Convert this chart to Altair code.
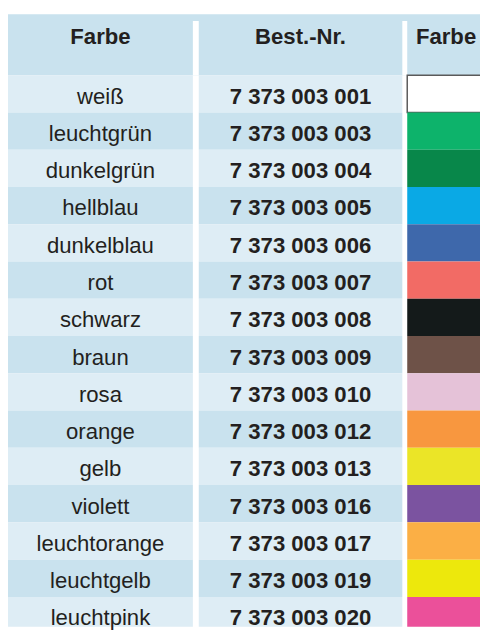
import altair as alt
import pandas as pd

# ---- table content ----
farben = ["weiß", "leuchtgrün", "dunkelgrün", "hellblau", "dunkelblau", "rot",
          "schwarz", "braun", "rosa", "orange", "gelb", "violett",
          "leuchtorange", "leuchtgelb", "leuchtpink"]
nummern = ["7 373 003 001", "7 373 003 003", "7 373 003 004", "7 373 003 005",
           "7 373 003 006", "7 373 003 007", "7 373 003 008", "7 373 003 009",
           "7 373 003 010", "7 373 003 012", "7 373 003 013", "7 373 003 016",
           "7 373 003 017", "7 373 003 019", "7 373 003 020"]
swatches = ["#ffffff", "#0db36b", "#08874a", "#0aa9e5", "#3e68ab", "#f26b65",
            "#141a1a", "#6e5248", "#e5c2d8", "#f8973f", "#ebe527", "#7b53a0",
            "#fbaf45", "#ede80c", "#eb509a"]
headers = ["Farbe", "Best.-Nr.", "Farbe"]

# ---- layout (page pixels for x, row units for y) ----
col_x0 = [7, 201, 413]
col_x1 = [195, 408, 492]
ROW_PX = 37.9
Y_TOP = -63 / ROW_PX
Y_BOT = Y_TOP + 624 / ROW_PX
HEAD_TOP = -62 / ROW_PX
HEAD_SEP_TOP = -55 / ROW_PX
TXT_BASE = 29 / ROW_PX
HEAD_BASE = -32 / ROW_PX

DARK = "#c9e2ee"
LIGHT = "#deedf5"
INK = "#231f20"
FONT = "Liberation Sans"
FS = 22.5

n = len(farben)
rows = pd.DataFrame({
    "i": list(range(n)),
    "farbe": farben,
    "nr": nummern,
    "sw": swatches,
})
rows["bg"] = [LIGHT if k % 2 == 0 else DARK for k in range(n)]
rows["top"] = rows["i"]
rows["bot"] = rows["i"] + 1
rows["base"] = rows["i"] + TXT_BASE
rows["border"] = ["#5a5a5a" if c == "#ffffff" else c for c in swatches]
rows["bw"] = [1.5 if c == "#ffffff" else 0 for c in swatches]

cells = []
for k in range(n):
    for c in range(2):
        cells.append({"x0": col_x0[c], "x1": col_x1[c], "top": k, "bot": k + 1,
                      "bg": LIGHT if k % 2 == 0 else DARK})
cells = pd.DataFrame(cells)

head = pd.DataFrame({"x0": [col_x0[0]], "x1": [col_x1[2]],
                     "top": [HEAD_TOP], "bot": [0.0]})
gaps = pd.DataFrame({"x0": [col_x1[0], col_x1[1]], "x1": [col_x0[1], col_x0[2]],
                     "top": [HEAD_SEP_TOP] * 2, "bot": [0.0] * 2})
htxt = pd.DataFrame({"t": headers,
                     "xc": [(a + b) / 2 for a, b in zip(col_x0, col_x1)],
                     "y": [HEAD_BASE] * 3})

xs = alt.Scale(domain=[7, 487], nice=False, zero=False)
ys = alt.Scale(domain=[Y_TOP, Y_BOT], reverse=True, nice=False, zero=False)

def X(f):
    return alt.X(f, type="quantitative", scale=xs, axis=None)

def Y(f):
    return alt.Y(f, type="quantitative", scale=ys, axis=None)

head_l = alt.Chart(head).mark_rect(color=DARK, clip=True).encode(
    x=X("x0"), x2="x1", y=Y("top"), y2="bot")
gap_l = alt.Chart(gaps).mark_rect(color="white", clip=True).encode(
    x=X("x0"), x2="x1", y=Y("top"), y2="bot")
cell_l = alt.Chart(cells).mark_rect(clip=True).encode(
    x=X("x0"), x2="x1", y=Y("top"), y2="bot",
    fill=alt.Fill("bg:N", scale=None))
sw_l = alt.Chart(rows).mark_rect(clip=True).encode(
    x=alt.X(datum=col_x0[2], scale=xs, axis=None), x2=alt.X2(datum=col_x1[2]),
    y=Y("top"), y2="bot",
    fill=alt.Fill("sw:N", scale=None),
    stroke=alt.Stroke("border:N", scale=None),
    strokeWidth=alt.StrokeWidth("bw:Q", scale=None))
htxt_l = alt.Chart(htxt).mark_text(font=FONT, fontSize=FS, fontWeight="bold",
                                   color=INK, baseline="alphabetic", clip=True).encode(
    x=X("xc"), y=Y("y"), text="t:N")
t1 = alt.Chart(rows).mark_text(font=FONT, fontSize=FS, color=INK,
                               baseline="alphabetic").encode(
    x=alt.X(datum=(col_x0[0] + col_x1[0]) / 2, scale=xs, axis=None),
    y=Y("base"), text="farbe:N")
t2 = alt.Chart(rows).mark_text(font=FONT, fontSize=FS, fontWeight="bold", color=INK,
                               baseline="alphabetic").encode(
    x=alt.X(datum=(col_x0[1] + col_x1[1]) / 2, scale=xs, axis=None),
    y=Y("base"), text="nr:N")

chart = alt.layer(head_l, gap_l, cell_l, sw_l, htxt_l, t1, t2).properties(
    width=480, height=624,
    autosize=alt.AutoSizeParams(type="none"),
    padding=0,
).configure_view(stroke=None)

chart.save("out.html", embed_options={"renderer": "svg", "actions": False})
